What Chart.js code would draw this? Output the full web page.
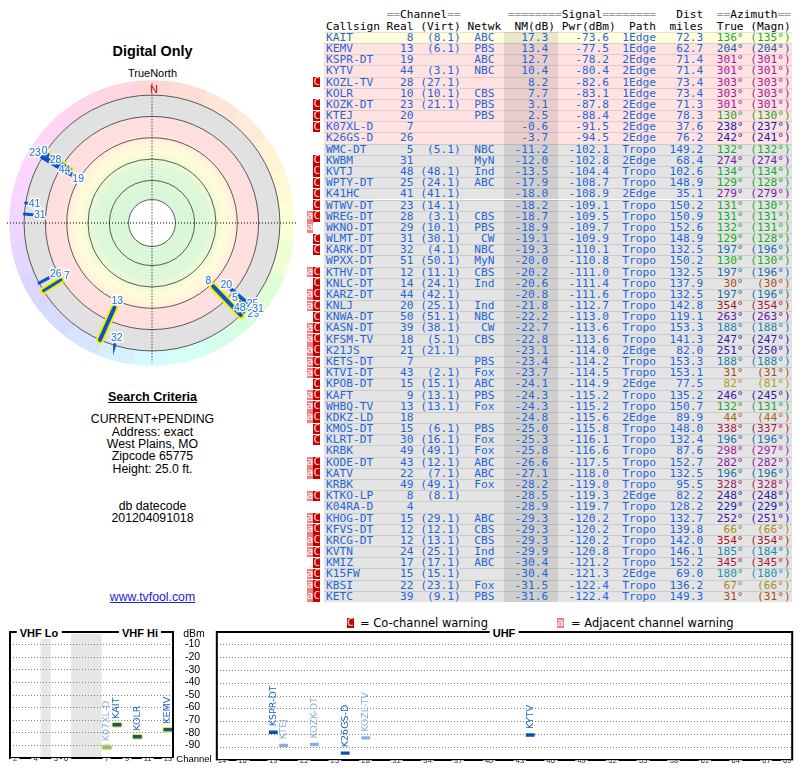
<!DOCTYPE html>
<html lang="en">
<head>
  <meta charset="UTF-8" />
  <title>TV Fool — Digital Only, West Plains MO</title>
  <style>
    body { margin: 0; width: 800px; height: 768px; position: relative; overflow: hidden; background: #fff; font-family: "Liberation Sans", Arial, sans-serif; color: #000; }
    .abs { position: absolute; }
    .mid { position: absolute; left: 0; width: 305px; text-align: center; font-size: 12.3px; line-height: 13px; }
    .mono { font-family: "DejaVu Sans Mono", monospace; font-size: 11.2px; line-height: 11.18px; white-space: pre; }
    .row { position: absolute; left: 324px; width: 468px; height: 11.18px; padding-left: 2px; box-sizing: border-box; box-shadow: inset 0 1px 0 rgba(0,0,0,0.11); color: #1f66d8; }
    .shade { position: absolute; left: 180px; top: 0; width: 54px; height: 100%; background: rgba(0,0,0,0.09); }
    .txt { position: relative; }
    .badge { position: absolute; width: 6.7px; height: 10.4px; text-align: center; font-family: "DejaVu Sans Mono", monospace; font-size: 11px; line-height: 10.4px; }
    .bC { background: #c40000; color: #ffd6d6; }
    .ba { background: #f28080; color: #fff; }
    .eq { color: #9a9a9a; }
    .ttl { position: absolute; transform: translate(-50%, -50%); background: #fff; padding: 0 3px; font-weight: bold; font-size: 11px; line-height: 12px; }
    .lgd { position: absolute; font-family: "DejaVu Sans", sans-serif; font-size: 11.5px; line-height: 13px; }
  </style>
</head>
<body>

  <div class="mid" style="top:43px;font-size:14.4px;line-height:16px;font-weight:bold">Digital Only</div>
  <div class="mid" style="top:67px;font-size:11px">TrueNorth</div>
  <canvas id="polar" class="abs" style="left:7px;top:78px" width="290" height="290"></canvas>

  <div class="mid" style="top:391px;font-weight:bold;font-size:12.5px;text-decoration:underline">Search Criteria</div>
  <div class="mid" style="top:413px">CURRENT+PENDING</div>
  <div class="mid" style="top:426px">Address: exact</div>
  <div class="mid" style="top:438px">West Plains, MO</div>
  <div class="mid" style="top:450px">Zipcode 65775</div>
  <div class="mid" style="top:463px">Height: 25.0 ft.</div>
  <div class="mid" style="top:500px">db datecode</div>
  <div class="mid" style="top:512px">201204091018</div>
  <div class="mid" style="top:591px;color:#2323dd;text-decoration:underline">www.tvfool.com</div>

  <div id="table"></div>

  <div class="badge bC" style="left:347px;top:618px">C</div>
  <div class="lgd" style="left:360px;top:617px">= Co-channel warning</div>
  <div class="badge ba" style="left:557px;top:618px">a</div>
  <div class="lgd" style="left:571px;top:617px">= Adjacent channel warning</div>

  <canvas id="vhf" class="abs" style="left:0;top:612px" width="215" height="156"></canvas>
  <canvas id="uhf" class="abs" style="left:209px;top:612px" width="591" height="156"></canvas>
  <div class="ttl" style="left:39px;top:633px">VHF Lo</div>
  <div class="ttl" style="left:140px;top:633px">VHF Hi</div>
  <div class="ttl" style="left:504px;top:633px">UHF</div>
  <div class="abs" style="left:194px;top:633px;transform:translate(-50%,-50%);font-size:10.5px">dBm</div>
  <div class="abs" style="left:194px;top:758px;transform:translate(-50%,-50%);font-size:9.5px">Channel</div>

  <script src="https://cdn.jsdelivr.net/npm/chart.js"></script>
  <script>
    const callsigns = ['KAIT','KEMV','KSPR-DT','KYTV','KOZL-TV','KOLR','KOZK-DT','KTEJ','K07XL-D','K26GS-D',
      'WMC-DT','KWBM','KVTJ','WPTY-DT','K41HC','WTWV-DT','WREG-DT','WKNO-DT','WLMT-DT','KARK-DT',
      'WPXX-DT','KTHV-DT','KNLC-DT','KARZ-DT','KNLJ','KNWA-DT','KASN-DT','KFSM-TV','K21JS','KETS-DT',
      'KTVI-DT','KPOB-DT','KAFT','WHBQ-TV','KDKZ-LD','KMOS-DT','KLRT-DT','KRBK','KODE-DT','KATV',
      'KRBK','KTKO-LP','K04RA-D','KHOG-DT','KFVS-DT','KRCG-DT','KVTN','KMIZ','K15FW','KBSI','KETC'];
    const realCh = [8,13,19,44,28,10,23,20,7,26, 5,31,48,25,41,23,28,29,31,32, 51,12,14,44,20,50,39,18,21,7,
      43,15,9,13,18,15,30,49,43,22, 49,8,4,15,12,12,24,17,15,22,39];
    const virtCh = ['8.1','6.1','','3.1','27.1','10.1','21.1','','','', '5.1','','48.1','24.1','41.1','14.1','3.1','10.1','30.1','4.1',
      '50.1','11.1','24.1','42.1','25.1','51.1','38.1','5.1','21.1','', '2.1','15.1','13.1','13.1','','6.1','16.1','49.1','12.1','7.1',
      '49.1','8.1','','29.1','12.1','13.1','25.1','17.1','15.1','23.1','9.1'];
    const network = ['ABC','PBS','ABC','NBC','','CBS','PBS','PBS','','', 'NBC','MyN','Ind','ABC','','','CBS','PBS','CW','NBC',
      'MyN','CBS','Ind','','Ind','NBC','CW','CBS','','PBS', 'Fox','ABC','PBS','Fox','','PBS','Fox','Fox','ABC','ABC',
      'Fox','','','ABC','CBS','CBS','Ind','ABC','','Fox','PBS'];
    const nmDb = [17.3,13.4,12.7,10.4,8.2,7.7,3.1,2.5,-0.6,-3.7, -11.2,-12.0,-13.5,-17.9,-18.0,-18.2,-18.7,-18.9,-19.1,-19.3,
      -20.0,-20.2,-20.6,-20.8,-21.8,-22.2,-22.7,-22.8,-23.1,-23.4, -23.7,-24.1,-24.3,-24.3,-24.8,-25.0,-25.3,-25.8,-26.6,-27.1,
      -28.2,-28.5,-28.9,-29.3,-29.3,-29.3,-29.9,-30.4,-30.4,-31.5,-31.6];
    const pwrDbm = [-73.6,-77.5,-78.2,-80.4,-82.6,-83.1,-87.8,-88.4,-91.5,-94.5, -102.1,-102.8,-104.4,-108.7,-108.9,-109.1,-109.5,-109.7,-109.9,-110.1,
      -110.8,-111.0,-111.4,-111.6,-112.7,-113.0,-113.6,-113.6,-114.0,-114.2, -114.5,-114.9,-115.2,-115.2,-115.6,-115.8,-116.1,-116.6,-117.5,-118.0,
      -119.0,-119.3,-119.7,-120.2,-120.2,-120.2,-120.8,-121.2,-121.3,-122.4,-122.4];
    const path = ['1Edge','1Edge','2Edge','2Edge','1Edge','1Edge','2Edge','2Edge','2Edge','2Edge',
      'Tropo','2Edge','Tropo','Tropo','2Edge','Tropo','Tropo','Tropo','Tropo','Tropo',
      'Tropo','Tropo','Tropo','Tropo','Tropo','Tropo','Tropo','Tropo','2Edge','Tropo',
      'Tropo','2Edge','Tropo','Tropo','2Edge','Tropo','Tropo','Tropo','Tropo','Tropo',
      'Tropo','2Edge','Tropo','Tropo','Tropo','Tropo','Tropo','Tropo','2Edge','Tropo','Tropo'];
    const distMi = [72.3,62.7,71.4,71.4,73.4,73.4,71.3,78.3,37.6,76.2, 149.2,68.4,102.6,148.9,35.1,150.2,150.9,152.6,148.9,132.5,
      150.2,132.5,137.9,132.5,142.8,119.1,153.3,141.3,82.0,153.3, 153.1,77.5,135.2,150.7,89.9,148.0,132.4,87.6,152.7,132.5,
      95.5,82.2,128.2,132.7,139.8,142.0,146.1,152.2,69.0,136.2,149.3];
    const azTrue = [136,204,301,301,303,303,301,130,238,242, 132,274,134,129,279,131,131,132,129,197,
      130,197,30,197,354,263,188,247,251,188, 31,82,246,132,44,338,196,298,282,196,
      328,248,229,252,66,354,185,345,180,67,31];
    const azMagn = [135,204,301,301,303,303,301,130,237,241, 132,274,134,128,279,130,131,131,128,196,
      130,196,30,196,354,263,188,247,250,188, 31,81,245,131,44,337,196,297,282,196,
      328,248,229,251,66,354,184,345,180,66,31];
    const warn = ['','','','','C','','C','C','C','', '','C','C','C','C','C','aC','a','C','C',
      '','aC','C','aC','aC','C','aC','aC','aC','aC', 'aC','C','aC','aC','aC','C','C','','aC','aC',
      '','aC','','aC','aC','aC','aC','C','aC','aC','aC'];

    const polarRings = [22, 40, 60, 80, 100, 120];
    const vhfLabels = ['2','3','4','','5','6','','','','7','8','9','10','11','12','13'];
    const vhfTickLabels = ['2','4','5','6','7','9','11','13'];
    const uhfLabels = ['14','15','16','17','18','19','20','21','22','23','24','25','26','27','28','29','30','31','32','33',
      '34','35','36','37','38','39','40','41','42','43','44','45','46','47','48','49','50','51','52','53',
      '54','55','56','57','58','59','60','61','62','63','64','65','66','67','68','69'];
    const uhfTickLabels = ['14','16','19','22','25','28','31','34','37','40','43','46','49','52','55','58','61','64','67','69'];
    const dbmTicks = [-10,-20,-30,-40,-50,-60,-70,-80,-90];

    // compass angle -> hue on the colour wheel used for azimuths
    function hueFor(deg) {
      const a = [0, 45, 90, 130, 180, 240, 300, 360];
      const h = [0, 32, 62, 125, 188, 245, 305, 360];
      for (let k = 1; k < a.length; k++) {
        if (deg <= a[k]) return h[k-1] + (deg - a[k-1]) / (a[k] - a[k-1]) * (h[k] - h[k-1]);
      }
      return 0;
    }
    function rowColour(nm) {
      if (nm >= 15) return '#ffffe0';
      if (nm > -10) return '#ffe2e2';
      return '#e4e4e4';
    }

    // ---- table ----
    const ROW0 = 31.8, ROW_H = 11.18;
    const table = document.getElementById('table');
    const h1 = ' '.repeat(9) + '==Channel==' + ' '.repeat(7) + '========Signal========' + ' '.repeat(3) + 'Dist' + '  ' + '==Azimuth==';
    const h2 = 'Callsign Real (Virt) Netwk  NM(dB) Pwr(dBm)  Path  miles  True (Magn)';
    [h1, h2].forEach((s, k) => {
      const d = document.createElement('div');
      d.className = 'abs mono';
      d.style.left = '326px';
      d.style.top = (ROW0 - ROW_H * (2 - k)) + 'px';
      d.innerHTML = s.replace(/(=+)/g, '<span class="eq">$1</span>');
      table.appendChild(d);
    });

    callsigns.forEach((cs, i) => {
      const top = ROW0 + i * ROW_H;
      const row = document.createElement('div');
      row.className = 'row mono';
      row.style.top = top + 'px';
      row.style.background = rowColour(nmDb[i]);
      const shade = document.createElement('span');
      shade.className = 'shade';
      row.appendChild(shade);

      const txt = document.createElement('span');
      txt.className = 'txt';
      txt.textContent = cs.padEnd(8) + ' ' + String(realCh[i]).padStart(4) + ' ' +
        (virtCh[i] ? '(' + virtCh[i] + ')' : '').padStart(6) + ' ' + network[i].padStart(4) +
        nmDb[i].toFixed(1).padStart(8) + pwrDbm[i].toFixed(1).padStart(9) + '  ' +
        path[i].padEnd(5) + distMi[i].toFixed(1).padStart(7);
      row.appendChild(txt);

      const az = document.createElement('span');
      az.className = 'txt';
      az.style.color = 'hsl(' + hueFor(azTrue[i]) + ',75%,38%)';
      az.textContent = (azTrue[i] + '°').padStart(6) + ('(' + azMagn[i] + '°)').padStart(7);
      row.appendChild(az);
      table.appendChild(row);

      if (warn[i].includes('a')) {
        const b = document.createElement('div');
        b.className = 'badge ba';
        b.style.left = '306.7px';
        b.style.top = (top + 0.5) + 'px';
        b.textContent = 'a';
        table.appendChild(b);
      }
      if (warn[i].includes('C')) {
        const b = document.createElement('div');
        b.className = 'badge bC';
        b.style.left = '313.4px';
        b.style.top = (top + 0.5) + 'px';
        b.textContent = 'C';
        table.appendChild(b);
      }
    });

    Chart.defaults.font.family = '"Liberation Sans", Arial, sans-serif';

    // ---- polar plot ----
    const NM_AT_CENTRE = 100;   // radial value = NM_AT_CENTRE - NM(dB)
    const PLOT_EDGE = 136;
    const HUE_RING = 134;
    const LABEL_LIMIT = 128;
    const outerRing = polarRings[polarRings.length - 1];
    const polarIdx = callsigns.map((c, i) => i).filter(i => nmDb[i] > -20);

    const polarSets = [];
    polarIdx.forEach(i => {
      const a = azTrue[i] * Math.PI / 180;
      const rIn = NM_AT_CENTRE - nmDb[i];
      const pts = [{x: rIn * Math.sin(a), y: rIn * Math.cos(a)},
                   {x: outerRing * Math.sin(a), y: outerRing * Math.cos(a)}];
      const w = nmDb[i] >= 0 ? 4 : 3;
      polarSets.push({data: pts, showLine: true, borderColor: '#0b55c9', borderWidth: w,
        borderCapStyle: 'round', pointRadius: 0, order: 1});
      if (realCh[i] <= 13) {
        polarSets.push({data: pts, showLine: true, borderColor: '#f4f000', borderWidth: w + 4,
          borderCapStyle: 'round', pointRadius: 0, order: 2});
      }
    });

    const polarBackdrop = {
      id: 'polarBackdrop',
      beforeDatasetsDraw(chart) {
        const {ctx, scales: {x, y}} = chart;
        const cx = x.getPixelForValue(0), cy = y.getPixelForValue(0);
        const k = x.getPixelForValue(1) - cx;
        ctx.save();
        for (let a = 0; a < 360; a += 15) {
          const a0 = (a - 7.6 - 90) * Math.PI / 180, a1 = (a + 7.6 - 90) * Math.PI / 180;
          ctx.beginPath();
          ctx.arc(cx, cy, HUE_RING * k, a0, a1);
          ctx.arc(cx, cy, outerRing * k, a1, a0, true);
          ctx.closePath();
          ctx.fillStyle = 'hsl(' + hueFor(a) + ',100%,92%)';
          ctx.fill();
        }
        const g = ctx.createRadialGradient(cx, cy, 0, cx, cy, outerRing * k);
        g.addColorStop(0, '#d9f6d9');
        g.addColorStop(0.42, '#dcf7d9');
        g.addColorStop(0.5, '#eefad6');
        g.addColorStop(0.56, '#fffcd9');
        g.addColorStop(0.63, '#fff6da');
        g.addColorStop(0.69, '#ffe0df');
        g.addColorStop(0.828, '#ffdede');
        g.addColorStop(0.836, '#e2e2e2');
        g.addColorStop(1, '#e0e0e0');
        ctx.beginPath();
        ctx.arc(cx, cy, outerRing * k, 0, Math.PI * 2);
        ctx.fillStyle = g;
        ctx.fill();
        ctx.beginPath();
        ctx.arc(cx, cy, polarRings[0] * k, 0, Math.PI * 2);
        ctx.fillStyle = '#fff';
        ctx.fill();

        ctx.strokeStyle = '#333';
        ctx.lineWidth = 0.8;
        polarRings.forEach(r => {
          ctx.beginPath();
          ctx.arc(cx, cy, r * k, 0, Math.PI * 2);
          ctx.stroke();
        });

        ctx.strokeStyle = '#000';
        ctx.lineWidth = 1;
        ctx.setLineDash([1, 2]);
        ctx.beginPath();
        ctx.moveTo(x.getPixelForValue(-PLOT_EDGE), cy);
        ctx.lineTo(x.getPixelForValue(PLOT_EDGE), cy);
        ctx.moveTo(cx, y.getPixelForValue(131));
        ctx.lineTo(cx, y.getPixelForValue(-131));
        ctx.stroke();
        ctx.setLineDash([]);

        ctx.fillStyle = '#e00000';
        ctx.font = '11px "Liberation Sans"';
        ctx.textAlign = 'center';
        ctx.textBaseline = 'middle';
        ctx.fillText('N', cx + 2, y.getPixelForValue(125));
        ctx.restore();
      }
    };

    const polarTags = {
      id: 'polarTags',
      afterDatasetsDraw(chart) {
        const {ctx, scales: {x, y}} = chart;
        ctx.save();
        ctx.font = '10.5px "Liberation Sans"';
        ctx.textAlign = 'center';
        ctx.textBaseline = 'middle';
        ctx.lineJoin = 'round';
        const placed = [];
        polarIdx.forEach(i => {
          const a = azTrue[i] * Math.PI / 180;
          const label = String(realCh[i]);
          const w = ctx.measureText(label).width + 1, h = 9;
          let rho = NM_AT_CENTRE - nmDb[i] - 6.5, px = 0, py = 0;
          for (let n = 0; n < 24; n++) {
            px = x.getPixelForValue(rho * Math.sin(a));
            py = y.getPixelForValue(rho * Math.cos(a));
            const hit = placed.some(b => Math.abs(b.x - px) < (b.w + w) / 2 && Math.abs(b.y - py) < h);
            if (!hit || rho >= LABEL_LIMIT) break;
            rho = Math.min(rho + 2.5, LABEL_LIMIT);
          }
          placed.push({x: px, y: py, w});
          ctx.strokeStyle = 'rgba(255,255,255,0.92)';
          ctx.lineWidth = 3;
          ctx.strokeText(label, px, py);
          ctx.fillStyle = '#1f6fd8';
          ctx.fillText(label, px, py);
        });
        ctx.restore();
      }
    };

    new Chart(document.getElementById('polar'), {
      type: 'scatter',
      data: { datasets: polarSets },
      options: {
        responsive: false,
        animation: false,
        events: [],
        layout: { padding: 0 },
        plugins: { legend: { display: false }, tooltip: { enabled: false } },
        scales: {
          x: { type: 'linear', min: -PLOT_EDGE, max: PLOT_EDGE, display: false },
          y: { type: 'linear', min: -PLOT_EDGE, max: PLOT_EDGE, display: false }
        }
      },
      plugins: [polarBackdrop, polarTags]
    });

    // ---- spectrum panels ----
    const specRows = callsigns.map((c, i) => i).filter(i => nmDb[i] > -10);

    const gapBands = {
      id: 'gapBands',
      beforeDraw(chart) {
        const {ctx, chartArea: a, scales: {x}} = chart;
        const w = x.getPixelForValue(1) - x.getPixelForValue(0);
        ctx.save();
        ctx.fillStyle = '#e6e6e6';
        chart.data.labels.forEach((l, i) => {
          if (l === '') ctx.fillRect(x.getPixelForValue(i) - w / 2, a.top + 2, w, a.bottom - a.top - 2);
        });
        ctx.restore();
      }
    };
    const panelFrame = {
      id: 'panelFrame',
      afterDraw(chart) {
        const {ctx, chartArea: a} = chart;
        ctx.save();
        ctx.strokeStyle = '#000';
        ctx.lineWidth = 2;
        ctx.beginPath();
        ctx.moveTo(a.left, a.bottom);
        ctx.lineTo(a.left, a.top);
        ctx.lineTo(a.right, a.top);
        ctx.lineTo(a.right, a.bottom);
        ctx.stroke();
        ctx.restore();
      }
    };
    const roundCaps = {
      id: 'roundCaps',
      beforeDatasetDraw(chart, args) {
        if (chart.data.datasets[args.index].roundCaps) {
          chart.ctx.lineCap = 'round';
          chart.ctx.lineJoin = 'round';
        }
      },
      afterDatasetDraw(chart) {
        chart.ctx.lineCap = 'butt';
        chart.ctx.lineJoin = 'miter';
      }
    };
    const callsignTags = {
      id: 'callsignTags',
      afterDatasetsDraw(chart) {
        const ctx = chart.ctx;
        chart.data.datasets.forEach((ds, di) => {
          if (!ds.tags) return;
          chart.getDatasetMeta(di).data.forEach((pt, j) => {
            ctx.save();
            ctx.translate(pt.x, pt.y - 6);
            ctx.rotate(-Math.PI / 2);
            ctx.font = '9.5px "DejaVu Sans"';
            ctx.fillStyle = ds.tagColours[j];
            ctx.textBaseline = 'middle';
            ctx.fillText(ds.tags[j], 0, 0);
            ctx.restore();
          });
        });
      }
    };
    function noPad(s) { s.paddingLeft = 0; s.paddingRight = 0; s.paddingTop = 0; s.paddingBottom = 0; }

    function spectrum(id, labels, tickLabels, vhf) {
      const rows = specRows.filter(i => vhf ? realCh[i] <= 13 : realCh[i] > 13);
      const pts = rows.map(i => ({x: String(realCh[i]), y: pwrDbm[i]}));
      const co = rows.map(i => warn[i].includes('C'));
      const sets = [{
        data: pts, showLine: false, pointStyle: 'line', pointRadius: 4.4, pointBorderWidth: 3.4,
        pointBorderColor: co.map(c => c ? '#88aee2' : '#0b4fb8'),
        tags: rows.map(i => callsigns[i]),
        tagColours: co.map(c => c ? '#86ade2' : '#1b5fc9'),
        order: 1
      }];
      if (vhf) {
        sets.push({data: pts, showLine: false, pointStyle: 'line', pointRadius: 2.5, pointBorderWidth: 6,
          pointBorderColor: '#f2ee00', roundCaps: true, order: 2});
      }
      return new Chart(document.getElementById(id), {
        type: 'line',
        data: { labels, datasets: sets },
        options: {
          responsive: false,
          animation: false,
          events: [],
          layout: { padding: vhf ? {left: 4, top: 20, right: 0, bottom: 0} : {left: 2, top: 20, right: 7, bottom: 0} },
          plugins: { legend: { display: false }, tooltip: { enabled: false } },
          scales: {
            x: {
              type: 'category',
              offset: true,
              grid: { display: false, drawTicks: false },
              border: { display: true, color: '#000', width: 2 },
              ticks: {
                autoSkip: false, maxRotation: 0, minRotation: 0,
                font: { size: 7.5 }, color: '#222', padding: -4,
                textStrokeColor: '#fff', textStrokeWidth: 5,
                callback(v) {
                  const l = this.getLabelForValue(v);
                  return tickLabels.includes(l) ? l : null;
                }
              },
              afterFit(s) { s.height = 6; noPad(s); }
            },
            y: {
              type: 'linear',
              position: vhf ? 'right' : 'left',
              min: -100, max: 0,
              grid: { color: '#808080', lineWidth: 1, drawTicks: false },
              border: { display: false, dash: [1, 2] },
              ticks: {
                display: vhf, stepSize: 10, padding: 12, color: '#000', font: { size: 10.5 },
                callback: v => dbmTicks.includes(v) ? String(v) : null
              },
              afterFit(s) { s.width = vhf ? 42 : 0; noPad(s); }
            }
          }
        },
        plugins: vhf ? [gapBands, roundCaps, callsignTags, panelFrame] : [roundCaps, callsignTags, panelFrame]
      });
    }

    spectrum('vhf', vhfLabels, vhfTickLabels, true);
    spectrum('uhf', uhfLabels, uhfTickLabels, false);
  </script>
</body>
</html>
